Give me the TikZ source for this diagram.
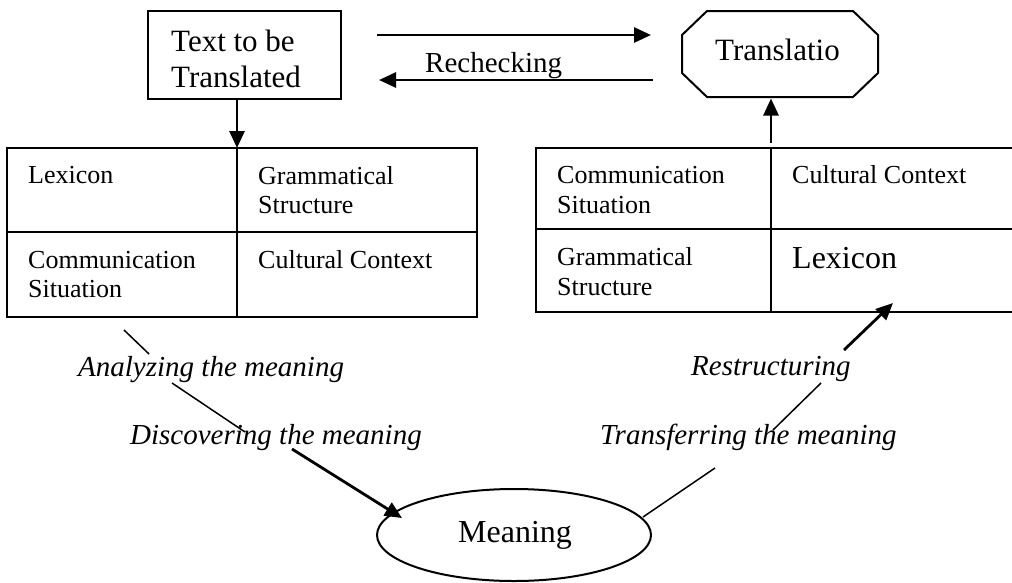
\documentclass[tikz,border=0pt]{standalone}
\usepackage{fontspec}
\setmainfont{Liberation Serif}
\usetikzlibrary{arrows.meta,shapes.geometric,calc}
\begin{document}
\begin{tikzpicture}[x=1pt,y=-1pt,
  boxline/.style={line width=2pt},
  lbl/.style={inner sep=0,anchor=base west},
  bigtxt/.style={font=\fontsize{31}{36}\selectfont},
  tabtxt/.style={font=\fontsize{26}{30}\selectfont},
  itl/.style={font=\fontsize{29}{33}\selectfont\itshape},
  arr/.style={line width=2.8pt,-{Triangle[length=17pt,width=15pt]}},
  thinline/.style={line width=1.5pt},
]
\useasboundingbox (0,0) rectangle (1012,582);

% source box
\node[draw,boxline,minimum width=193pt,minimum height=88pt,inner sep=0,outer sep=0] (src) at (244.5,55) {};
\node[lbl,bigtxt] (t1) at (171,51) {Text to be};
\node[lbl,bigtxt] (t2) at (171,87) {Translated};

% translation octagon
\node[minimum width=196pt,minimum height=86pt,inner sep=0,outer sep=0] (trans) at (780,54) {};
\draw[boxline] (707,11) -- (853,11) -- (878,35) -- (878,73) -- (853,97) -- (707,97) -- (682,73) -- (682,35) -- cycle;
\node[lbl,bigtxt] (t3) at (715,60) {Translatio};

% top arrows
\coordinate (r1) at (377,35);
\coordinate (r2) at (651,35);
\coordinate (l1) at (653,80);
\coordinate (l2) at (379,80);
\draw[arr] (r1) -- (r2);
\draw[arr] (l1) -- (l2);
\node[lbl,font=\fontsize{29}{33}\selectfont] (rech) at (425,72) {Rechecking};

% left table
\node[draw,boxline,minimum width=470pt,minimum height=169pt,inner sep=0,outer sep=0] (ltab) at (242,232.5) {};
\coordinate (ldiv) at (237,148);
\draw[boxline] (ldiv) -- (237,317);
\draw[boxline] (7,232) -- (477,232);
\draw[arr] (src.south -| ldiv) -- (ldiv);
\node[lbl,tabtxt] (lx1) at (28,183) {Lexicon};
\node[lbl,tabtxt] (lg1) at (258,184) {Grammatical};
\node[lbl,tabtxt] (lg2) at (258,213) {Structure};
\node[lbl,tabtxt] (lc1) at (28,268) {Communication};
\node[lbl,tabtxt] (lc2) at (28,297) {Situation};
\node[lbl,tabtxt] (lcc) at (258,268) {Cultural Context};

% right table
\node[draw,boxline,minimum width=478pt,minimum height=164pt,inner sep=0,outer sep=0] (rtab) at (775,230) {};
\coordinate (rdiv) at (771,148);
\draw[boxline] (rdiv) -- (771,312);
\draw[boxline] (536,229) -- (1014,229);
\coordinate (u0) at (771,143);
\draw[arr,shorten >=1.5pt] (u0) -- (u0 |- trans.south);
\node[lbl,tabtxt] (rc1) at (557,183) {Communication};
\node[lbl,tabtxt] (rc2) at (557,213) {Situation};
\node[lbl,tabtxt] (rcc) at (792,183) {Cultural Context};
\node[lbl,tabtxt] (rg1) at (557,265) {Grammatical};
\node[lbl,tabtxt] (rg2) at (557,295) {Structure};
\node[lbl,font=\fontsize{32}{36}\selectfont] (rlx) at (792,268) {Lexicon};

% meaning ellipse
\node[draw,ellipse,boxline,minimum width=274pt,minimum height=92pt,inner sep=0,outer sep=0] (mean) at (514,535) {};
\node[lbl,font=\fontsize{32}{36}\selectfont] (mtxt) at (458,542) {Meaning};

% italic labels
\node[lbl,itl] (an) at (78,376) {Analyzing the meaning};
\node[lbl,itl] (di) at (130,444) {Discovering the meaning};
\node[lbl,itl] (re) at (691,375) {Restructuring};
\node[lbl,itl] (tr) at (600,444) {Transferring the meaning};

% left diagonal
\coordinate (a1) at (124,330);
\coordinate (a2) at (149,354);
\coordinate (a3) at (172,383);
\coordinate (a4) at (245,432);
\coordinate (a5) at (292,449);
\coordinate (a6) at (402,518);
\draw[thinline] (a1) -- (a2);
\draw[thinline] (a3) -- (a4);
\draw[arr] (a5) -- (a6);

% right diagonal
\coordinate (b1) at (643,517);
\coordinate (b2) at (715,468);
\coordinate (b3) at (773,430);
\coordinate (b4) at (821,383);
\coordinate (b5) at (844,350);
\coordinate (b6) at (893,303);
\draw[thinline] (b1) -- (b2);
\draw[thinline] (b3) -- (b4);
\draw[arr] (b5) -- (b6);
\end{tikzpicture}
\end{document}
